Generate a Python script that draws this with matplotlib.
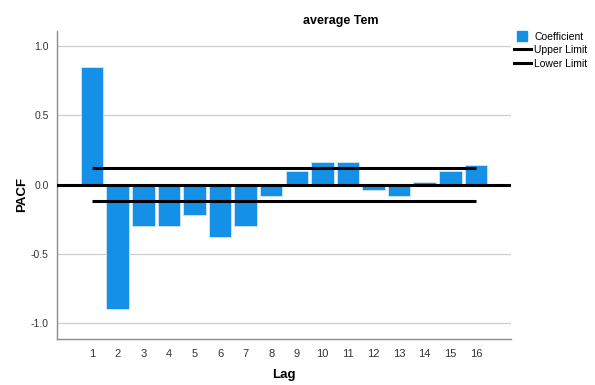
import numpy as np
import matplotlib.pyplot as plt
from matplotlib.lines import Line2D

plt.rcParams['font.family'] = ['Liberation Sans', 'DejaVu Sans']

# partial autocorrelation by lag
lags = list(range(1, 17))
pacf = [0.85, -0.90, -0.30, -0.30, -0.22, -0.38, -0.30, -0.085,
        0.10, 0.165, 0.165, -0.04, -0.085, 0.02, 0.10, 0.14]
upper_limit = 0.118
lower_limit = -0.118

bar_color = '#1490E6'

fig = plt.figure(figsize=(5.95, 3.85), dpi=100)
ax = fig.add_axes([0.0958, 0.119, 0.763, 0.800])

ax.set_ylim(-1.115, 1.107)
ax.set_xlim(-0.37, 17.37)

ax.set_yticks([-1.0, -0.5, 0.0, 0.5, 1.0])
ax.set_yticklabels(['-1.0', '-0.5', '0.0', '0.5', '1.0'])
ax.set_xticks(lags)
ax.grid(axis='y', color='#cfcfcf', linewidth=0.9)
ax.set_axisbelow(True)

ax.bar(lags, pacf, width=0.88, color=bar_color, edgecolor='#cfe8fb',
       linewidth=0.6, zorder=2)

ax.axhline(0, color='black', linewidth=2.2, zorder=3)
ax.plot([lags[0], lags[-1]], [upper_limit, upper_limit], color='black',
        linewidth=2.2, solid_capstyle='butt', zorder=3)
ax.plot([lags[0], lags[-1]], [lower_limit, lower_limit], color='black',
        linewidth=2.2, solid_capstyle='butt', zorder=3)

for side in ['top', 'right']:
    ax.spines[side].set_visible(False)
for side in ['left', 'bottom']:
    ax.spines[side].set_color('#8c8c8c')
    ax.spines[side].set_linewidth(1.0)

ax.tick_params(length=0, labelsize=7.5, colors='#333333', pad=6)
ax.tick_params(axis='x', labelsize=8, pad=7)

ax.set_ylabel('PACF', fontsize=9.5, fontweight='bold')
ax.set_xlabel('Lag', fontsize=9.5, fontweight='bold')
ax.yaxis.set_label_coords(-0.064, 0.47)
ax.xaxis.set_label_coords(0.5, -0.097)

fig.text(0.573, 0.945, 'average Tem', fontsize=9, fontweight='bold',
         ha='center', va='center')

handles = [Line2D([0], [0], marker='s', color=bar_color, linestyle='none',
                  markersize=6.5),
           Line2D([0], [0], color='black', linewidth=2.2),
           Line2D([0], [0], color='black', linewidth=2.2)]
fig.legend(handles, ['Coefficient', 'Upper Limit', 'Lower Limit'],
           loc='upper left', bbox_to_anchor=(0.864, 0.918), frameon=False,
           fontsize=7.5, handlelength=1.6, handleheight=0.8,
           handletextpad=0.35, labelspacing=0.35, borderaxespad=0,
           borderpad=0)

fig.savefig('out.png', dpi=100)
